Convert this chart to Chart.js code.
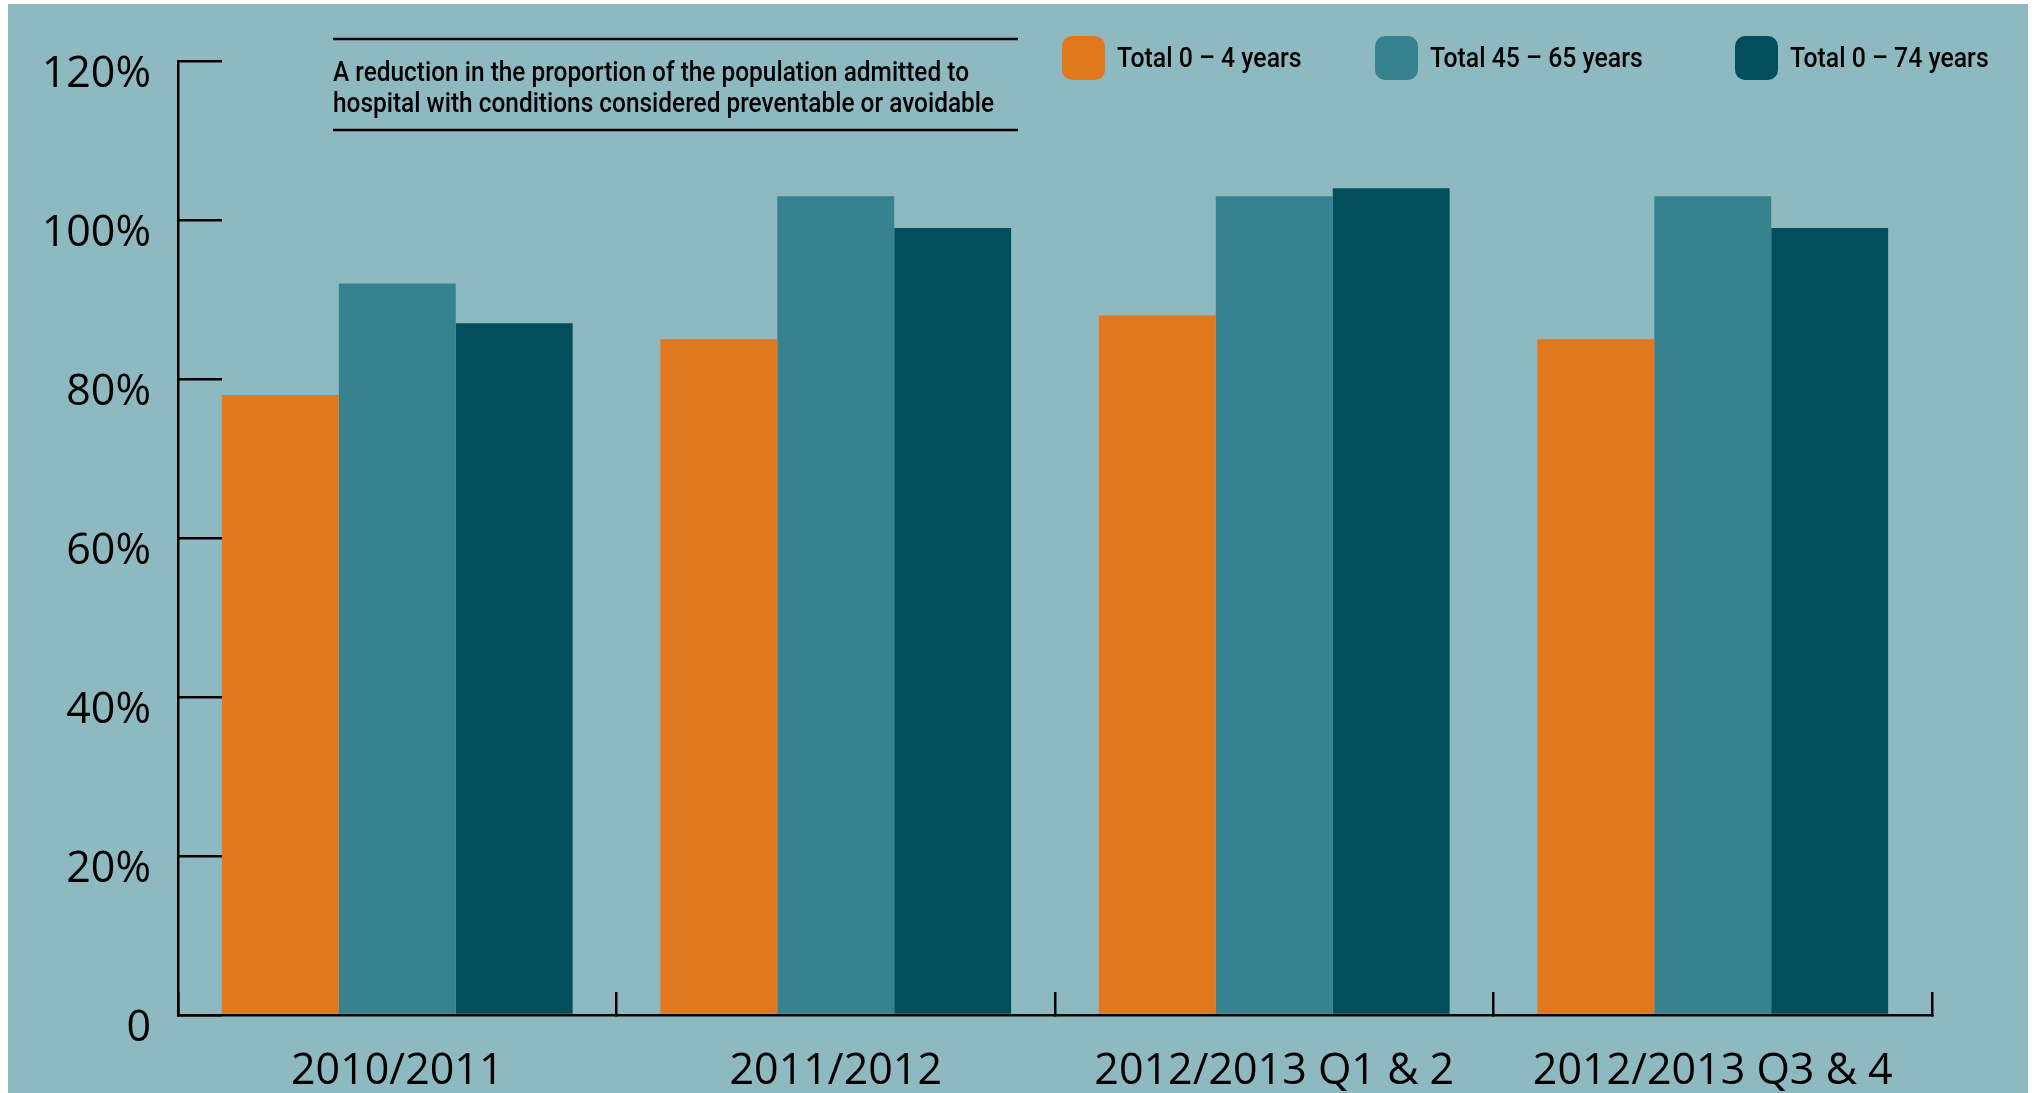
<!DOCTYPE html>
<html><head><meta charset="utf-8">
<script src="https://cdn.jsdelivr.net/npm/chart.js@4/dist/chart.umd.min.js"></script>
<style>html,body{margin:0;padding:0;background:#fff;overflow:hidden}</style>
</head><body>
<canvas id="c" width="2035" height="1093" style="display:block;width:2035px;height:1093px"></canvas>
<script>
const categories = ['2010/2011', '2011/2012', '2012/2013 Q1 & 2', '2012/2013 Q3 & 4'];
const seriesNames = ['Total 0 – 4 years', 'Total 45 – 65 years', 'Total 0 – 74 years'];
const age0to4 = [78, 85, 88, 85];
const age45to65 = [92, 103, 103, 103];
const age0to74 = [87, 99, 104, 99];
const yTickLabels = ['0', '20%', '40%', '60%', '80%', '100%', '120%'];
const titleLines = ['A reduction in the proportion of the population admitted to',
                    'hospital with conditions considered preventable or avoidable'];
const seriesColors = ['#E0791D', '#36838F', '#024F5B'];

const BG = '#8FB9C1';
const AXIS_FONT = {family: "'Open Sans', 'Noto Sans', sans-serif", size: 43};
const NOTE_FONT = "500 27px Roboto, 'Liberation Sans', sans-serif";
const LEGEND_FONT = "500 28px Roboto, 'Liberation Sans', sans-serif";

const decorPlugin = {
  id: 'decor',
  beforeDraw(chart) {
    const ctx = chart.ctx;
    ctx.save();
    ctx.fillStyle = '#ffffff';
    ctx.fillRect(0, 0, chart.width, chart.height);
    ctx.fillStyle = BG;
    ctx.fillRect(8, 4, 2020, chart.height - 4);
    ctx.restore();
  },
  afterDraw(chart) {
    const ctx = chart.ctx;
    ctx.save();
    // note box
    ctx.strokeStyle = '#000';
    ctx.lineWidth = 2.5;
    ctx.beginPath();
    ctx.moveTo(333, 39); ctx.lineTo(1018, 39);
    ctx.moveTo(333, 130); ctx.lineTo(1018, 130);
    ctx.stroke();
    ctx.fillStyle = '#000';
    ctx.font = NOTE_FONT;
    ctx.textBaseline = 'alphabetic';
    ctx.textAlign = 'left';
    const condense = 636 / ctx.measureText(titleLines[0]).width;
    const baselines = [81, 112];
    titleLines.forEach((t, i) => {
      ctx.save();
      ctx.translate(333, baselines[i]);
      ctx.scale(condense, 1);
      ctx.fillText(t, 0, 0);
      ctx.restore();
    });
    // legend
    const boxX = [1062, 1375, 1735];
    ctx.font = LEGEND_FONT;
    chart.data.datasets.forEach((ds, i) => {
      ctx.fillStyle = ds.backgroundColor;
      ctx.beginPath();
      ctx.roundRect(boxX[i], 36, 43, 44, 10);
      ctx.fill();
      ctx.fillStyle = '#000';
      ctx.save();
      ctx.translate(boxX[i] + 55, 67);
      ctx.scale(condense * 0.98, 1);
      ctx.fillText(ds.label, 0, 0);
      ctx.restore();
    });
    ctx.restore();
  }
};

new Chart(document.getElementById('c'), {
  type: 'bar',
  data: {
    labels: categories,
    datasets: [
      {label: seriesNames[0], data: age0to4, backgroundColor: seriesColors[0]},
      {label: seriesNames[1], data: age45to65, backgroundColor: seriesColors[1]},
      {label: seriesNames[2], data: age0to74, backgroundColor: seriesColors[2]}
    ]
  },
  options: {
    responsive: false,
    animation: false,
    devicePixelRatio: 1,
    categoryPercentage: 0.8,
    barPercentage: 1.0,
    layout: {padding: {left: 0, top: 61, right: 103, bottom: 0}},
    plugins: {legend: {display: false}, tooltip: {enabled: false}},
    scales: {
      x: {
        offset: true,
        grid: {offset: true, drawOnChartArea: false, drawTicks: true, tickLength: -23, color: '#000', lineWidth: 2.5},
        border: {display: true, color: '#000', width: 2.5},
        ticks: {font: AXIS_FONT, color: '#000', padding: 54, maxRotation: 0, autoSkip: false},
        afterFit(s) { s.height = 78; s.paddingLeft = 0; s.paddingRight = 0; }
      },
      y: {
        min: 0, max: 120,
        grid: {drawOnChartArea: false, drawTicks: true, tickLength: -44, color: '#000', lineWidth: 2.5},
        border: {display: true, color: '#000', width: 2.5},
        ticks: {stepSize: 20, font: AXIS_FONT, color: '#000', padding: 71, labelOffset: 14,
                callback: (v, i) => yTickLabels[i]},
        afterFit(s) { s.width = 178; s.paddingTop = 0; s.paddingBottom = 0; }
      }
    }
  },
  plugins: [decorPlugin]
});
</script>
</body></html>
